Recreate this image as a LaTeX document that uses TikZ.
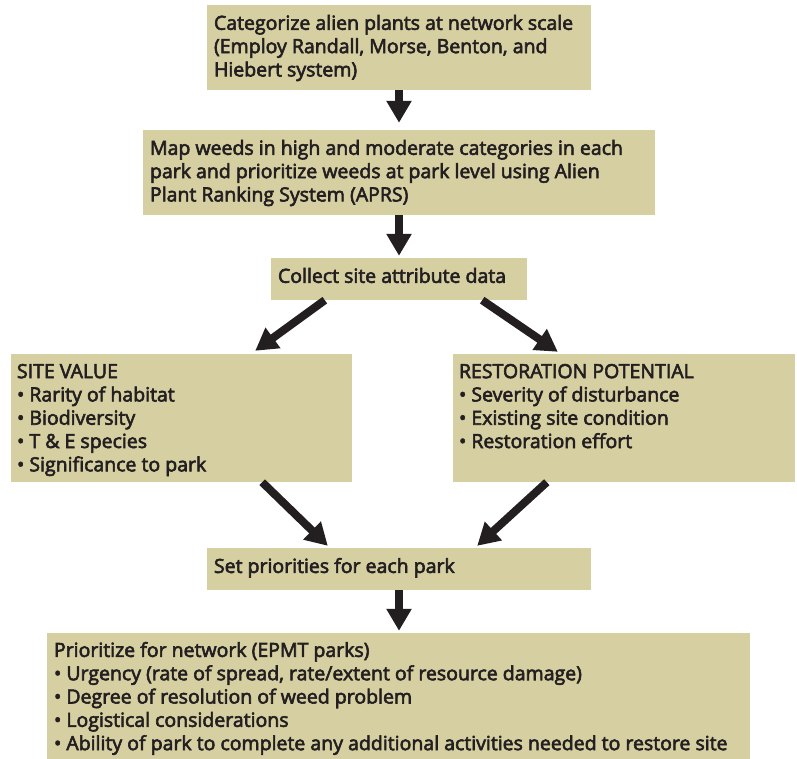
\documentclass[tikz,border=0pt]{standalone}
\usepackage{fontspec}
\setmainfont{Open Sans}[FakeBold=3]
\usetikzlibrary{arrows.meta,calc}
\definecolor{boxtan}{HTML}{D6CFA2}
\definecolor{ink}{HTML}{231F20}
\tikzset{
  box/.style={fill=boxtan, draw=none, inner sep=0pt, anchor=center},
  txt/.style={anchor=north west, inner sep=0pt, align=left, text=ink, font=\fontsize{19.5}{23.3}\selectfont},
  bigarrow/.style={draw=ink, line width=8pt, -{Triangle[width=24pt,length=22pt]}}
}
\begin{document}
\begin{tikzpicture}[x=1pt,y=-1pt]
\useasboundingbox (0,0) rectangle (797,759);
% boxes
\node[box, minimum width=384pt, minimum height=85pt] (b1) at (399,47.5) {};
\node[box, minimum width=512pt, minimum height=85pt] (b2) at (399,172.5) {};
\node[box, minimum width=256pt, minimum height=42pt] (b3) at (399,279) {};
\node[box, minimum width=341pt, minimum height=128pt] (b4) at (181.5,418) {};
\node[box, minimum width=342pt, minimum height=128pt] (b5) at (624,418) {};
\node[box, minimum width=384pt, minimum height=42pt] (b6) at (399,569) {};
\node[box, minimum width=703pt, minimum height=126pt] (b7) at (398.5,696) {};
% texts
\node[txt] (t1) at ($(b1.north west)+(7,10)$) {Categorize alien plants at network scale\\(Employ Randall, Morse, Benton, and\\Hiebert system)};
\node[txt] (t2) at ($(b2.north west)+(7,10)$) {Map weeds in high and moderate categories in each\\park and prioritize weeds at park level using Alien\\Plant Ranking System (APRS)};
\node[txt] (t3) at ($(b3.north west)+(7,10)$) {Collect site attribute data};
\node[txt] (t4) at ($(b4.north west)+(6,10)$) {SITE VALUE\\• Rarity of habitat\\• Biodiversity\\• T \& E species\\• Significance to park};
\node[txt] (t5) at ($(b5.north west)+(6,10)$) {RESTORATION POTENTIAL\\• Severity of disturbance\\• Existing site condition\\• Restoration effort};
\node[txt] (t6) at ($(b6.north west)+(7,10)$) {Set priorities for each park};
\node[txt] (t7) at ($(b7.north west)+(7,9)$) {Prioritize for network (EPMT parks)\\• Urgency (rate of spread, rate/extent of resource damage)\\• Degree of resolution of weed problem\\• Logistical considerations\\• Ability of park to complete any additional activities needed to restore site};
% arrows
\draw[bigarrow] (b1.south) -- ($(b2.north)+(0,-7)$);
\draw[bigarrow] (b2.south) -- ($(b3.north)+(0,-2)$);
\draw[bigarrow] ($(b3.south west)+(54,0)$) -- ($(b4.north east)+(-97,-3)$);
\draw[bigarrow] ($(b3.south east)+(-45,0)$) -- ($(b5.north west)+(105,-2)$);
\draw[bigarrow] ($(b4.south east)+(-90,0)$) -- ($(b6.north west)+(121,-2)$);
\draw[bigarrow] ($(b5.south west)+(94,0)$) -- ($(b6.north east)+(-114,-2)$);
\draw[bigarrow] (b6.south) -- ($(b7.north)+(0.5,-2)$);
\end{tikzpicture}
\end{document}
